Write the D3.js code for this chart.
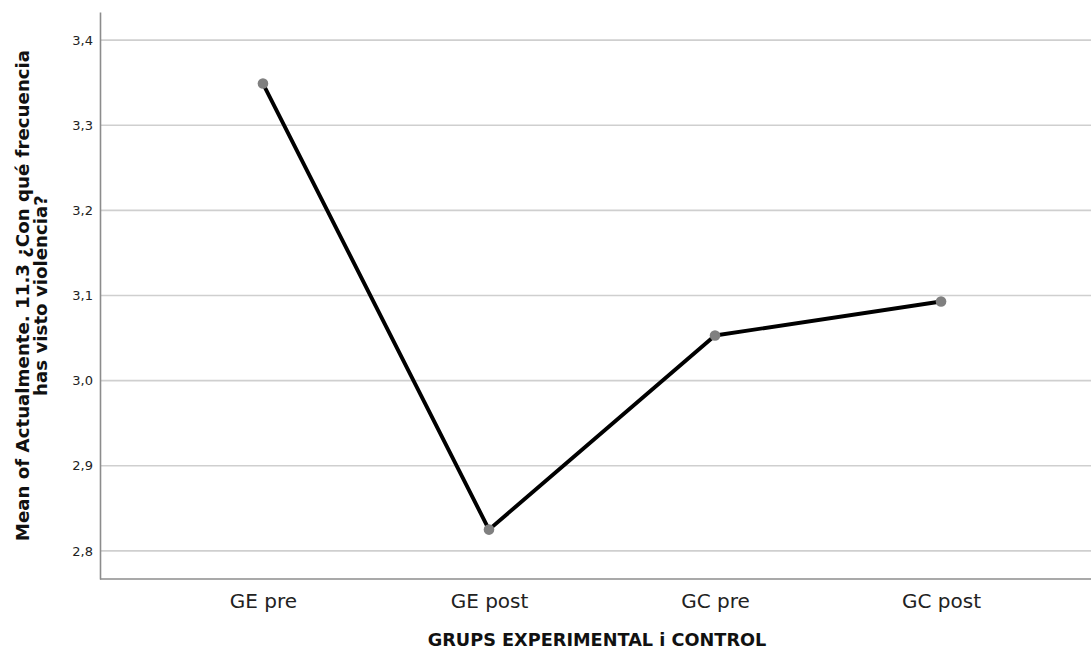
<!DOCTYPE html>
<html>
<head>
<meta charset="utf-8">
<script src="https://cdn.jsdelivr.net/npm/d3@7"></script>
<style>
  html, body { margin: 0; padding: 0; background: #fff; }
  svg { display: block; font-family: "DejaVu Sans", sans-serif; }
</style>
</head>
<body>
<svg id="chart" width="1091" height="651"></svg>
<script>
const categories = ["GE pre", "GE post", "GC pre", "GC post"];
const means = [3.349, 2.825, 3.053, 3.093];
const yTicks = [2.8, 2.9, 3.0, 3.1, 3.2, 3.3, 3.4];
const xTitle = "GRUPS EXPERIMENTAL i CONTROL";
const yTitleLines = ["Mean of Actualmente. 11.3 ¿Con qué frecuencia", "has visto violencia?"];

const FONT = "'DejaVu Sans', sans-serif";
const svg = d3.select("#chart");
const plotLeft = 100, plotRight = 1091, plotTop = 12, plotBottom = 579;

const y = d3.scaleLinear().domain([2.767, 3.433]).range([plotBottom, plotTop]);
const x = d3.scalePoint().domain(categories).range([plotLeft, 1104]).padding(0.721);

// gridlines
svg.append("g").selectAll("line").data(yTicks).join("line")
  .attr("x1", plotLeft).attr("x2", plotRight)
  .attr("y1", d => y(d)).attr("y2", d => y(d))
  .attr("stroke", "#cfcfcf").attr("stroke-width", 1.6);

// y axis
const yAxis = d3.axisLeft(y).tickValues(yTicks).tickSize(0).tickPadding(7)
  .tickFormat(d => d3.format(".1f")(d).replace(".", ","));
const gy = svg.append("g").attr("transform", `translate(${plotLeft},0)`).call(yAxis)
  .attr("font-family", FONT).attr("font-size", 13);
gy.select(".domain").attr("stroke", "#8c8c8c").attr("stroke-width", 1.6);
gy.selectAll("text").attr("fill", "#222");

// x axis
const xAxis = d3.axisBottom(x).tickSize(0).tickPadding(15);
const gx = svg.append("g").attr("transform", `translate(0,${plotBottom})`).call(xAxis)
  .attr("font-family", FONT).attr("font-size", 20);
gx.select(".domain").attr("d", `M${plotLeft},0H${plotRight}`).attr("stroke", "#8c8c8c").attr("stroke-width", 1.6);
gx.selectAll("text").attr("fill", "#222");

// line
const line = d3.line().x((d, i) => x(categories[i])).y(d => y(d));
svg.append("path").datum(means).attr("d", line)
  .attr("fill", "none").attr("stroke", "#000").attr("stroke-width", 3.9)
  .attr("stroke-linejoin", "round");

// points
svg.append("g").selectAll("circle").data(means).join("circle")
  .attr("cx", (d, i) => x(categories[i])).attr("cy", d => y(d))
  .attr("r", 5.3).attr("fill", "#808080");

// x title
svg.append("text").attr("x", 597).attr("y", 646).attr("text-anchor", "middle")
  .attr("font-family", FONT).attr("font-size", 17.7).attr("font-weight", "bold").attr("fill", "#111")
  .text(xTitle);

// y title
const yt = svg.append("text").attr("transform", `translate(29,${(plotTop + plotBottom) / 2}) rotate(-90)`)
  .attr("text-anchor", "middle").attr("font-family", FONT).attr("font-size", 18.2)
  .attr("font-weight", "bold").attr("fill", "#111");
yTitleLines.forEach((t, i) => yt.append("tspan").attr("x", 0).attr("dy", i === 0 ? 0 : 18).text(t));
</script>
</body>
</html>
